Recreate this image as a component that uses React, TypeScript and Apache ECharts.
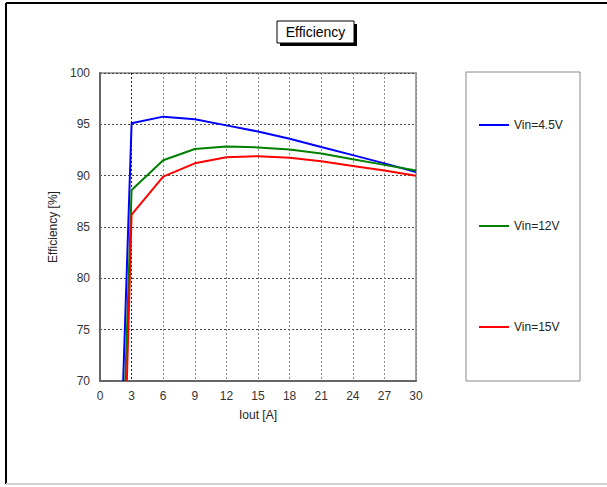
import React, { useEffect, useRef } from "react";
import * as echarts from "echarts";

const iout = [3, 6, 9, 12, 15, 18, 21, 24, 27, 30];
const startIout = [2.2, 2.4, 2.55];
const startEff = 70;
const vin45 = [95.1, 95.75, 95.5, 94.9, 94.3, 93.6, 92.8, 92.0, 91.2, 90.35];
const vin12 = [88.6, 91.5, 92.6, 92.85, 92.75, 92.55, 92.15, 91.6, 91.05, 90.5];
const vin15 = [86.2, 89.9, 91.2, 91.8, 91.9, 91.75, 91.4, 90.95, 90.5, 90.0];
const seriesNames = ["Vin=4.5V", "Vin=12V", "Vin=15V"];
const seriesColors = ["#0000ff", "#008000", "#ff0000"];
const xTicks = [0, 3, 6, 9, 12, 15, 18, 21, 24, 27, 30];
const yTicks = [70, 75, 80, 85, 90, 95, 100];

const FONT = "Liberation Sans";

export default function App() {
  const ref = useRef<HTMLDivElement>(null);
  useEffect(() => {
    document.body.style.margin = "0";
    const chart = echarts.init(ref.current!, null, { renderer: "svg" });
    const allVals = [vin45, vin12, vin15];
    const series = allVals.map((vals, i) => ({
      name: seriesNames[i],
      type: "line",
      symbol: "none",
      clip: true,
      lineStyle: { color: seriesColors[i], width: 2 },
      itemStyle: { color: seriesColors[i] },
      data: [[startIout[i], startEff], ...iout.map((x, j) => [x, vals[j]])],
    }));
    const vColors = xTicks.map((t) => (t === 3 ? "#222" : "#8a8a8a"));
    chart.setOption({
      animation: false,
      textStyle: { fontFamily: FONT },
      grid: {
        left: 100,
        top: 73,
        width: 316,
        height: 308,
        show: true,
        borderColor: "#888",
        borderWidth: 1.5,
        containLabel: false,
      },
      xAxis: {
        type: "value",
        min: xTicks[0],
        max: xTicks[xTicks.length - 1],
        interval: 3,
        name: "Iout [A]",
        nameLocation: "middle",
        nameGap: 28,
        nameTextStyle: { fontFamily: FONT, fontSize: 12, color: "#222" },
        axisLine: { lineStyle: { color: "#666", width: 2 } },
        axisTick: { show: false },
        axisLabel: { fontFamily: FONT, fontSize: 12, color: "#333", margin: 9 },
        splitLine: { show: true, lineStyle: { color: vColors, type: [2, 2], width: 1 } },
      },
      yAxis: {
        type: "value",
        min: yTicks[0],
        max: yTicks[yTicks.length - 1],
        interval: 5,
        name: "Efficiency [%]",
        nameLocation: "middle",
        nameGap: 35,
        nameTextStyle: { fontFamily: FONT, fontSize: 12, color: "#222" },
        axisLine: { show: true, lineStyle: { color: "#666", width: 2 } },
        axisTick: { show: false },
        axisLabel: { fontFamily: FONT, fontSize: 12, color: "#333", margin: 10 },
        splitLine: { show: true, lineStyle: { color: "#444", type: [2, 2], width: 1 } },
      },
      legend: {
        orient: "vertical",
        left: 474,
        top: 114,
        itemWidth: 30,
        itemHeight: 14,
        itemGap: 89,
        data: seriesNames.map((n, i) => ({
          name: n,
          icon: "path://M0,0 L30,0 L30,2 L0,2 Z",
          itemStyle: { color: seriesColors[i] },
        })),
        textStyle: { fontFamily: FONT, fontSize: 12, color: "#222" },
        selectedMode: false,
      },
      graphic: [
        { type: "line", shape: { x1: 6, y1: 3, x2: 607, y2: 3 }, style: { stroke: "#000", lineWidth: 2 } },
        { type: "line", shape: { x1: 6, y1: 3, x2: 6, y2: 484 }, style: { stroke: "#000", lineWidth: 2 } },
        { type: "line", shape: { x1: 6, y1: 484, x2: 607, y2: 484 }, style: { stroke: "#d0d0d0", lineWidth: 2 } },
        { type: "rect", shape: { x: 466, y: 72, width: 114, height: 309 }, style: { fill: "none", stroke: "#888", lineWidth: 1 } },
        { type: "rect", shape: { x: 280, y: 24, width: 77, height: 22 }, style: { fill: "#000" } },
        { type: "rect", shape: { x: 277, y: 21, width: 77, height: 22 }, style: { fill: "#fff", stroke: "#000", lineWidth: 1 } },
        {
          type: "text",
          x: 315.5,
          y: 32,
          style: { text: "Efficiency", fontFamily: FONT, fontSize: 14, fill: "#000", align: "center", verticalAlign: "middle" },
        },
      ],
      series,
    });
    return () => chart.dispose();
  }, []);
  return <div ref={ref} style={{ width: 607, height: 487 }} />;
}
